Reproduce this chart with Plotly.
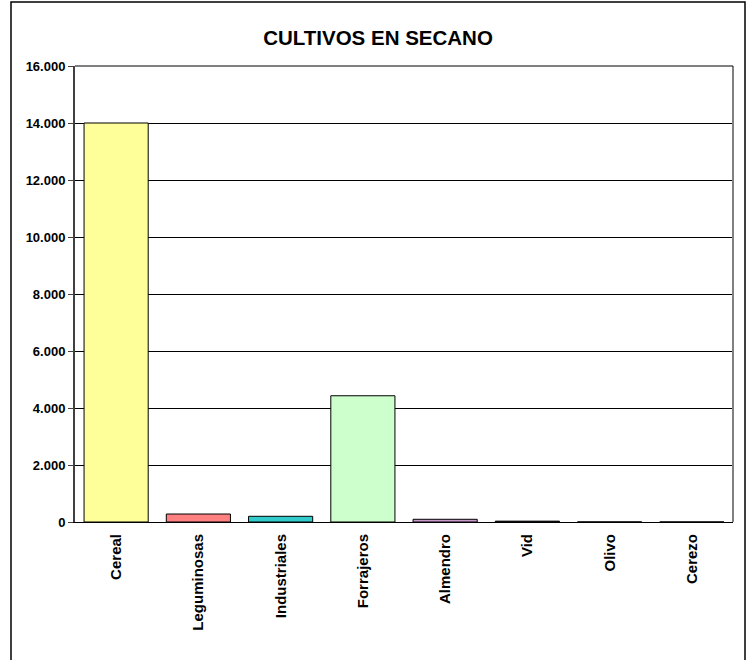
import plotly.graph_objects as go

categories = ["Cereal", "Leguminosas", "Industriales", "Forrajeros", "Almendro", "Vid", "Olivo", "Cerezo"]
values = [14000, 280, 200, 4430, 95, 30, 4, 3]
colors = ["#FFFF99", "#FF8080", "#33CCCC", "#CCFFCC", "#CC99CC", "#000000", "#FFFFFF", "#FFFFFF"]
y_ticks = [0, 2000, 4000, 6000, 8000, 10000, 12000, 14000, 16000]

FONT = "Liberation Sans, Arial, sans-serif"

fig = go.Figure(go.Bar(
    x=categories, y=values,
    marker=dict(color=colors, line=dict(color="#000000", width=1)),
    width=0.78,
))

L, R, T, B = 75, 18, 66, 138
W, H = 751, 660
pw, ph = W - L - R, H - T - B

def px(xp):
    return (xp - L) / pw

def py(yp):
    return (H - B - yp) / ph

fig.update_layout(
    width=W, height=H,
    margin=dict(l=L, r=R, t=T, b=B),
    paper_bgcolor="white", plot_bgcolor="white",
    separators=",.",
    font=dict(family=FONT, color="black"),
    title=dict(text="CULTIVOS EN SECANO", x=378 / W, xanchor="center",
               y=1 - 38 / H, yanchor="middle",
               font=dict(size=20.5, weight="bold", family=FONT)),
    showlegend=False,
    xaxis=dict(showgrid=False, tickangle=-90, ticks="", showline=True, linecolor="#000000", linewidth=1,
               tickfont=dict(size=15, weight="bold", family=FONT), ticklabelstandoff=5),
    yaxis=dict(range=[0, 16000], tickvals=y_ticks, tickformat=",d", showgrid=True, gridcolor="#000000",
               gridwidth=1, showline=True, linecolor="#404040", linewidth=2, ticks="outside", ticklen=5,
               tickcolor="#404040", tickfont=dict(size=13, weight="bold", family=FONT), zeroline=False),
    shapes=[
        dict(type="line", xref="paper", yref="paper", x0=1, x1=1, y0=0, y1=1,
             line=dict(color="#808080", width=2)),
        dict(type="line", xref="paper", yref="paper", x0=0, x1=1, y0=1, y1=1,
             line=dict(color="#000000", width=1)),
        dict(type="rect", xref="paper", yref="paper", x0=px(11), x1=px(745), y0=py(666), y1=py(2),
             line=dict(color="#000000", width=1.5), fillcolor="rgba(0,0,0,0)", layer="above"),
    ],
)
fig.write_html("out.html", post_script="document.body.style.margin='0';",
               config={"displayModeBar": False})
